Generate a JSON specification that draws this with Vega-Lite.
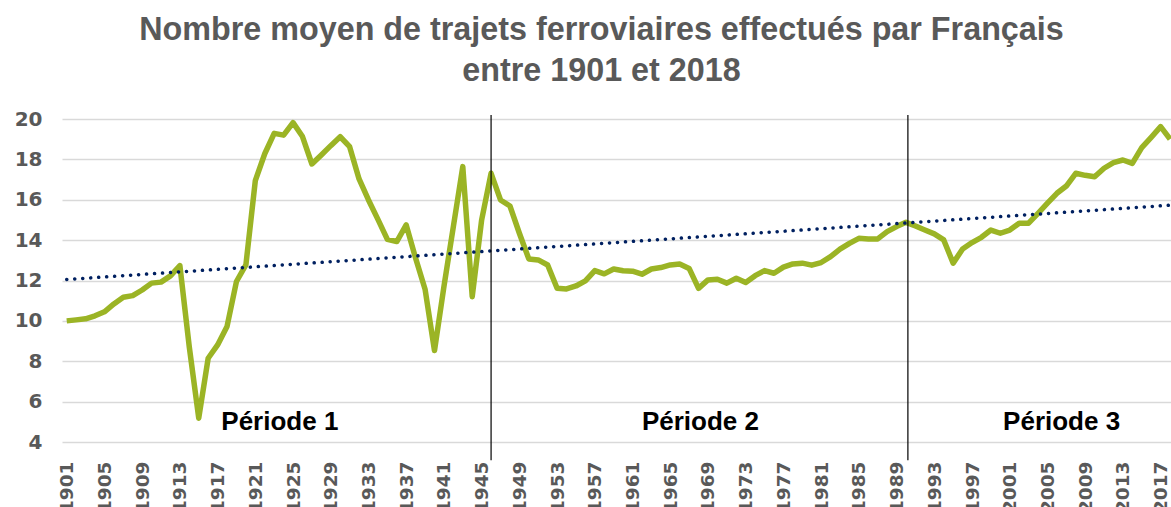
{
  "$schema": "https://vega.github.io/schema/vega-lite/v6.json",
  "width": 1109,
  "height": 323,
  "autosize": {"type": "none"},
  "padding": {"left": 62, "top": 119, "right": 0, "bottom": 65},
  "background": "white",
  "config": {"view": {"stroke": null}},
  "title": {
    "text": ["Nombre moyen de trajets ferroviaires effectués par Français", "entre 1901 et 2018"],
    "font": "Liberation Sans",
    "fontSize": 32.3,
    "fontWeight": "bold",
    "color": "#595959",
    "anchor": "middle",
    "dx": -15,
    "lineHeight": 41,
    "offset": 22
  },
  "datasets": {
    "series": [
      {"year": 1901, "value": 10.0}, {"year": 1902, "value": 10.05}, {"year": 1903, "value": 10.1},
      {"year": 1904, "value": 10.25}, {"year": 1905, "value": 10.45}, {"year": 1906, "value": 10.84},
      {"year": 1907, "value": 11.17}, {"year": 1908, "value": 11.25}, {"year": 1909, "value": 11.53},
      {"year": 1910, "value": 11.87}, {"year": 1911, "value": 11.92}, {"year": 1912, "value": 12.23},
      {"year": 1913, "value": 12.74}, {"year": 1914, "value": 8.7}, {"year": 1915, "value": 5.18},
      {"year": 1916, "value": 8.15}, {"year": 1917, "value": 8.81}, {"year": 1918, "value": 9.72},
      {"year": 1919, "value": 11.95}, {"year": 1920, "value": 12.77}, {"year": 1921, "value": 16.95},
      {"year": 1922, "value": 18.28}, {"year": 1923, "value": 19.29}, {"year": 1924, "value": 19.2},
      {"year": 1925, "value": 19.82}, {"year": 1926, "value": 19.13}, {"year": 1927, "value": 17.77},
      {"year": 1928, "value": 18.22}, {"year": 1929, "value": 18.68}, {"year": 1930, "value": 19.12},
      {"year": 1931, "value": 18.63}, {"year": 1932, "value": 17.03}, {"year": 1933, "value": 15.99},
      {"year": 1934, "value": 15.03}, {"year": 1935, "value": 14.04}, {"year": 1936, "value": 13.93},
      {"year": 1937, "value": 14.75}, {"year": 1938, "value": 13.1}, {"year": 1939, "value": 11.57},
      {"year": 1940, "value": 8.53}, {"year": 1941, "value": 11.7}, {"year": 1942, "value": 14.67},
      {"year": 1943, "value": 17.64}, {"year": 1944, "value": 11.2}, {"year": 1945, "value": 15.0},
      {"year": 1946, "value": 17.31}, {"year": 1947, "value": 15.99}, {"year": 1948, "value": 15.69},
      {"year": 1949, "value": 14.34}, {"year": 1950, "value": 13.07}, {"year": 1951, "value": 13.02},
      {"year": 1952, "value": 12.77}, {"year": 1953, "value": 11.62}, {"year": 1954, "value": 11.58},
      {"year": 1955, "value": 11.73}, {"year": 1956, "value": 11.98}, {"year": 1957, "value": 12.49},
      {"year": 1958, "value": 12.33}, {"year": 1959, "value": 12.57}, {"year": 1960, "value": 12.48},
      {"year": 1961, "value": 12.46}, {"year": 1962, "value": 12.31}, {"year": 1963, "value": 12.57},
      {"year": 1964, "value": 12.64}, {"year": 1965, "value": 12.77}, {"year": 1966, "value": 12.82},
      {"year": 1967, "value": 12.6}, {"year": 1968, "value": 11.61}, {"year": 1969, "value": 12.03},
      {"year": 1970, "value": 12.06}, {"year": 1971, "value": 11.87}, {"year": 1972, "value": 12.11},
      {"year": 1973, "value": 11.9}, {"year": 1974, "value": 12.24}, {"year": 1975, "value": 12.49},
      {"year": 1976, "value": 12.36}, {"year": 1977, "value": 12.66}, {"year": 1978, "value": 12.82},
      {"year": 1979, "value": 12.86}, {"year": 1980, "value": 12.76}, {"year": 1981, "value": 12.89},
      {"year": 1982, "value": 13.18}, {"year": 1983, "value": 13.55}, {"year": 1984, "value": 13.84},
      {"year": 1985, "value": 14.09}, {"year": 1986, "value": 14.06}, {"year": 1987, "value": 14.06},
      {"year": 1988, "value": 14.42}, {"year": 1989, "value": 14.67}, {"year": 1990, "value": 14.88},
      {"year": 1991, "value": 14.7}, {"year": 1992, "value": 14.5}, {"year": 1993, "value": 14.31},
      {"year": 1994, "value": 14.01}, {"year": 1995, "value": 12.86}, {"year": 1996, "value": 13.56},
      {"year": 1997, "value": 13.88}, {"year": 1998, "value": 14.14}, {"year": 1999, "value": 14.5},
      {"year": 2000, "value": 14.34}, {"year": 2001, "value": 14.5}, {"year": 2002, "value": 14.84},
      {"year": 2003, "value": 14.84}, {"year": 2004, "value": 15.33}, {"year": 2005, "value": 15.83},
      {"year": 2006, "value": 16.32}, {"year": 2007, "value": 16.68}, {"year": 2008, "value": 17.31},
      {"year": 2009, "value": 17.21}, {"year": 2010, "value": 17.14}, {"year": 2011, "value": 17.56},
      {"year": 2012, "value": 17.84}, {"year": 2013, "value": 17.97}, {"year": 2014, "value": 17.8},
      {"year": 2015, "value": 18.58}, {"year": 2016, "value": 19.09}, {"year": 2017, "value": 19.62},
      {"year": 2018, "value": 19.0}
    ],
    "trend": [
      {"year": 1901, "value": 12.05},
      {"year": 2018, "value": 15.73}
    ],
    "dividers": [
      {"year": 1946, "top": 20.2, "bottom": 3.1},
      {"year": 1990.2, "top": 20.2, "bottom": 3.1}
    ],
    "periods": [
      {"year": 1923.6, "value": 4.97, "label": "Période 1"},
      {"year": 1968.2, "value": 4.97, "label": "Période 2"},
      {"year": 2006.5, "value": 4.97, "label": "Période 3"}
    ]
  },
  "layer": [
    {
      "data": {"name": "series"},
      "mark": {"type": "line", "color": "#9bb425", "strokeWidth": 5.5, "strokeJoin": "round"},
      "encoding": {
        "x": {
          "field": "year", "type": "quantitative",
          "scale": {"domain": [1900.5, 2018.1], "nice": false, "zero": false},
          "axis": {
            "title": null,
            "values": [1901, 1905, 1909, 1913, 1917, 1921, 1925, 1929, 1933, 1937, 1941, 1945, 1949, 1953, 1957, 1961, 1965, 1969, 1973, 1977, 1981, 1985, 1989, 1993, 1997, 2001, 2005, 2009, 2013, 2017],
            "tickCount": 200,
            "format": "d",
            "labelAngle": -90,
            "labelFont": "DejaVu Sans",
            "labelFontWeight": "bold",
            "labelFontSize": 18.5,
            "labelColor": "#595959",
            "labelPadding": 19,
            "labelOverlap": false,
            "labelFlush": false,
            "labelBound": false,
            "ticks": false,
            "domain": false,
            "grid": false
          }
        },
        "y": {
          "field": "value", "type": "quantitative",
          "scale": {"domain": [4, 20], "nice": false, "zero": false},
          "axis": {
            "title": null,
            "values": [4, 6, 8, 10, 12, 14, 16, 18, 20],
            "tickCount": 20,
            "labelFont": "DejaVu Sans",
            "labelFontWeight": "bold",
            "labelFontSize": 20,
            "labelColor": "#595959",
            "labelPadding": 20,
            "ticks": false,
            "domain": false,
            "grid": true,
            "gridColor": "#d9d9d9",
            "gridWidth": 1.6
          }
        }
      }
    },
    {
      "data": {"name": "trend"},
      "mark": {"type": "line", "color": "#002060", "strokeWidth": 3.5, "strokeCap": "round", "strokeDash": [0.1, 7.9]},
      "encoding": {
        "x": {"field": "year", "type": "quantitative"},
        "y": {"field": "value", "type": "quantitative"}
      }
    },
    {
      "data": {"name": "dividers"},
      "mark": {"type": "rule", "color": "#000000", "strokeWidth": 1.2},
      "encoding": {
        "x": {"field": "year", "type": "quantitative"},
        "y": {"field": "top", "type": "quantitative"},
        "y2": {"field": "bottom"}
      }
    },
    {
      "data": {"name": "periods"},
      "mark": {"type": "text", "font": "Liberation Sans", "fontWeight": "bold", "fontSize": 26, "color": "#000000", "align": "center", "baseline": "middle"},
      "encoding": {
        "x": {"field": "year", "type": "quantitative"},
        "y": {"field": "value", "type": "quantitative"},
        "text": {"field": "label"}
      }
    }
  ]
}
